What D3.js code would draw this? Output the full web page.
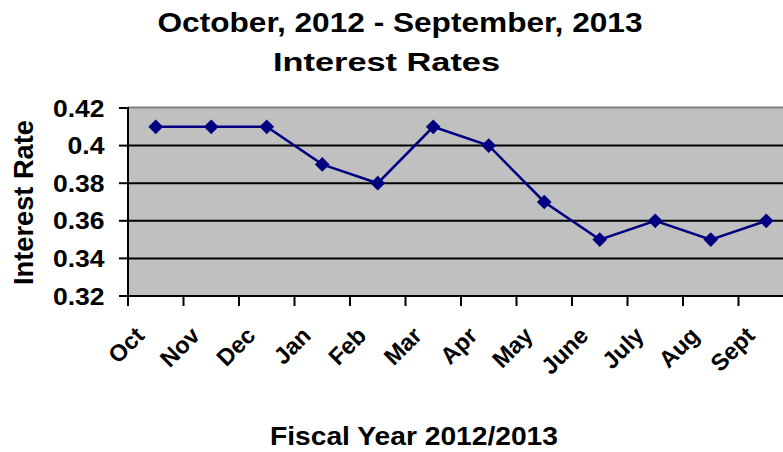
<!DOCTYPE html>
<html>
<head>
<meta charset="utf-8">
<script src="https://cdn.jsdelivr.net/npm/d3@7"></script>
<style>
  html, body { margin: 0; padding: 0; background: #ffffff; }
  svg { display: block; }
  text { font-family: Arial, "Liberation Sans", Helvetica, sans-serif; font-weight: bold; fill: #000; }
</style>
</head>
<body>
<svg id="chart" width="783" height="452"></svg>
<script>
// Monthly interest rates, fiscal year 2012/2013
const months = ["Oct", "Nov", "Dec", "Jan", "Feb", "Mar", "Apr", "May", "June", "July", "Aug", "Sept"];
const rates = [0.41, 0.41, 0.41, 0.39, 0.38, 0.41, 0.40, 0.37, 0.35, 0.36, 0.35, 0.36];
const yTicks = [0.32, 0.34, 0.36, 0.38, 0.40, 0.42];
const yTickLabels = ["0.32", "0.34", "0.36", "0.38", "0.4", "0.42"];

const titleLines = ["October, 2012 - September, 2013", "Interest Rates"];
const xTitle = "Fiscal Year 2012/2013";
const yTitle = "Interest Rate";

const svg = d3.select("#chart");

// Plot frame (extends past the right edge of the canvas)
const plot = { left: 128, right: 794, top: 108, bottom: 296 };

const x = d3.scaleBand().domain(months).range([plot.left, plot.right]).padding(0);
const y = d3.scaleLinear().domain([0.32, 0.42]).range([plot.bottom, plot.top]);
const cx = d => x(d) + x.bandwidth() / 2;

// Plot background
svg.append("rect")
  .attr("x", plot.left).attr("y", plot.top)
  .attr("width", plot.right - plot.left).attr("height", plot.bottom - plot.top)
  .attr("fill", "#c0c0c0");

// Top border
svg.append("line")
  .attr("x1", plot.left).attr("x2", plot.right)
  .attr("y1", y(0.42) - 0.5).attr("y2", y(0.42) - 0.5)
  .attr("stroke", "#808080").attr("stroke-width", 2);

// Horizontal gridlines
svg.append("g").selectAll("line")
  .data(yTicks.filter(t => t > 0.32 && t < 0.42))
  .join("line")
  .attr("x1", plot.left).attr("x2", plot.right)
  .attr("y1", d => y(d)).attr("y2", d => y(d))
  .attr("stroke", "#000").attr("stroke-width", 2);

// Y axis: line, ticks, labels
const yAxis = svg.append("g");
yAxis.append("line")
  .attr("x1", plot.left).attr("x2", plot.left)
  .attr("y1", plot.top - 1).attr("y2", plot.bottom + 10)
  .attr("stroke", "#000").attr("stroke-width", 2);
yAxis.selectAll("line.tick")
  .data(yTicks)
  .join("line")
  .attr("class", "tick")
  .attr("x1", plot.left - 9).attr("x2", plot.left)
  .attr("y1", d => y(d)).attr("y2", d => y(d))
  .attr("stroke", "#000").attr("stroke-width", 2);
yAxis.selectAll("text")
  .data(yTicks)
  .join("text")
  .attr("x", 104.5)
  .attr("y", d => y(d) + 8.5)
  .attr("text-anchor", "end")
  .attr("font-size", 23.5)
  .attr("textLength", (d, i) => yTickLabels[i].length === 4 ? 51.6 : 37)
  .attr("lengthAdjust", "spacingAndGlyphs")
  .text((d, i) => yTickLabels[i]);

// X axis: line, category boundary ticks, rotated labels
const xAxis = svg.append("g");
xAxis.append("line")
  .attr("x1", plot.left).attr("x2", plot.right)
  .attr("y1", plot.bottom).attr("y2", plot.bottom)
  .attr("stroke", "#000").attr("stroke-width", 2);
xAxis.selectAll("line.tick")
  .data(months.map(m => x(m)).concat([plot.right]))
  .join("line")
  .attr("class", "tick")
  .attr("x1", d => d).attr("x2", d => d)
  .attr("y1", plot.bottom).attr("y2", plot.bottom + 10)
  .attr("stroke", "#000").attr("stroke-width", 2);
xAxis.selectAll("text")
  .data(months)
  .join("text")
  .attr("text-anchor", "end")
  .attr("font-size", 23.5)
  .attr("transform", d => `translate(${cx(d) - 10},${plot.bottom + 41}) rotate(-45)`)
  .text(d => d);

// Series line
const line = d3.line()
  .x((d, i) => cx(months[i]))
  .y(d => y(d));
svg.append("path")
  .datum(rates)
  .attr("d", line)
  .attr("fill", "none")
  .attr("stroke", "#000080")
  .attr("stroke-width", 2.5);

// Diamond markers
const diamond = d3.symbol().type(d3.symbolSquare).size(108);
svg.append("g").selectAll("path")
  .data(rates)
  .join("path")
  .attr("d", diamond)
  .attr("transform", (d, i) => `translate(${cx(months[i])},${y(d)}) rotate(45)`)
  .attr("fill", "#000080");

// Titles
svg.append("text")
  .attr("x", 400).attr("y", 32)
  .attr("text-anchor", "middle")
  .attr("font-size", 27)
  .attr("textLength", 485).attr("lengthAdjust", "spacingAndGlyphs")
  .text(titleLines[0]);
svg.append("text")
  .attr("x", 386.5).attr("y", 71)
  .attr("text-anchor", "middle")
  .attr("font-size", 26.5)
  .attr("textLength", 227).attr("lengthAdjust", "spacingAndGlyphs")
  .text(titleLines[1]);

svg.append("text")
  .attr("x", 414).attr("y", 445)
  .attr("text-anchor", "middle")
  .attr("font-size", 25.5)
  .attr("textLength", 288).attr("lengthAdjust", "spacingAndGlyphs")
  .text(xTitle);

svg.append("text")
  .attr("transform", "translate(33,202.5) rotate(-90)")
  .attr("text-anchor", "middle")
  .attr("font-size", 28)
  .attr("textLength", 165).attr("lengthAdjust", "spacingAndGlyphs")
  .text(yTitle);
</script>
</body>
</html>
